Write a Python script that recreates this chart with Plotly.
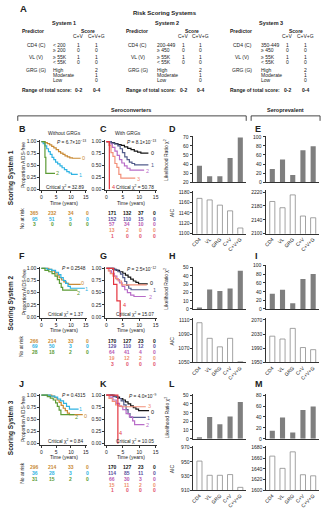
import plotly.graph_objects as go

W, H = 326, 512
FONT = "Liberation Sans, Arial, Helvetica, sans-serif"
INK = "#222222"

# ---------------- colours ----------------
ORANGE = "#c98a35"
CYAN = "#2fb3e3"
GREEN = "#5c9b35"
BLACK = "#151515"
SLATE = "#525c8c"
PURPLE = "#b86cc8"
SALMON = "#f2907a"
RED = "#e4343f"
NO_GRG_COLORS = [ORANGE, CYAN, GREEN]
GRG_COLORS = [BLACK, SLATE, PURPLE, SALMON, RED]
GRG_RISK_COLORS = [BLACK, "#5a4f9d", "#b757b3", "#ee8f6c", "#e2506e"]
LR_FILL = "#7f7f7f"
AIC_EDGE = "#8c8c8c"

PREDICTORS = ["CD4", "VL", "GRG", "C+V", "C+V+G"]
TIME_TICKS = [0, 5, 10, 15]
SURV_TICKS = [0, 0.25, 0.5, 0.75, 1.0]
SURV_TEXT = ["0.00", "0.25", "0.50", "0.75", "1.00"]

# ---------------- Kaplan-Meier step curves (years, proportion AIDS-free) ----------------
B_T = [[0, 1.2, 2.0, 2.8, 3.5, 4.2, 5.0, 5.8, 6.5, 7.3, 8.0, 8.8, 9.6, 10.5, 13.3],
       [0, 0.6, 1.2, 1.8, 2.4, 3.0, 3.6, 4.2, 4.8, 5.5, 6.3, 7.0, 7.8, 8.6, 9.4, 10.2, 12.3],
       [0, 1.2, 1.5, 4.6]]
B_S = [[1.0, 0.98, 0.96, 0.93, 0.90, 0.87, 0.83, 0.79, 0.76, 0.73, 0.70, 0.68, 0.66, 0.65, 0.65],
       [1.0, 0.96, 0.91, 0.85, 0.79, 0.73, 0.67, 0.62, 0.57, 0.53, 0.49, 0.45, 0.41, 0.37, 0.34, 0.31, 0.31],
       [1.0, 0.67, 0.33, 0.33]]

C_T = [[0, 1.5, 2.5, 3.5, 4.5, 5.5, 6.5, 7.5, 8.5, 9.5, 10.5, 12.8],
       [0, 1.5, 2.5, 3.5, 4.2, 4.9, 5.6, 6.3, 7.0, 7.8, 8.6, 12.8],
       [0, 1.0, 1.8, 2.6, 3.3, 4.0, 4.7, 5.5, 6.3, 7.2, 11.5],
       [0, 0.8, 1.4, 2.0, 2.6, 3.2, 3.8, 4.4, 8.8],
       [0, 0.9]]
C_S = [[1.0, 0.98, 0.96, 0.94, 0.92, 0.89, 0.86, 0.83, 0.80, 0.78, 0.76, 0.76],
       [1.0, 0.97, 0.95, 0.91, 0.85, 0.77, 0.68, 0.62, 0.57, 0.54, 0.51, 0.51],
       [1.0, 0.95, 0.88, 0.80, 0.71, 0.62, 0.55, 0.49, 0.44, 0.40, 0.40],
       [1.0, 0.92, 0.77, 0.69, 0.54, 0.46, 0.31, 0.23, 0.23],
       [1.0, 0.0]]

F_T = [[0, 2.5, 3.5, 4.5, 5.3, 6.0, 6.8, 7.6, 8.4, 9.2, 13.3],
       [0, 2.0, 3.5, 4.8, 5.8, 6.6, 7.4, 8.2, 9.0, 9.8, 14.5],
       [0, 1.2, 2.5, 3.6, 4.6, 5.4, 6.1, 6.7, 7.2, 12.2]]
F_S = [[1.0, 0.98, 0.95, 0.91, 0.86, 0.81, 0.76, 0.72, 0.69, 0.67, 0.67],
       [1.0, 0.98, 0.96, 0.92, 0.87, 0.81, 0.75, 0.69, 0.63, 0.59, 0.58],
       [1.0, 0.96, 0.93, 0.89, 0.84, 0.77, 0.69, 0.61, 0.55, 0.55]]

G_T = [[0, 2.0, 3.0, 4.0, 5.0, 5.8, 6.6, 7.4, 8.2, 9.0, 9.8, 12.6],
       [0, 2.5, 3.5, 4.3, 5.0, 5.6, 6.2, 6.8, 7.5, 12.8],
       [0, 0.8, 1.6, 2.4, 3.2, 4.0, 4.8, 5.6, 6.4, 7.4, 8.4, 12.0],
       [0, 0.6, 1.2, 2.0, 2.8, 3.6, 4.6, 12.3],
       [0, 2.2, 3.2, 4.2]]
G_S = [[1.0, 0.98, 0.96, 0.93, 0.90, 0.86, 0.82, 0.78, 0.74, 0.71, 0.68, 0.68],
       [1.0, 0.97, 0.93, 0.88, 0.81, 0.73, 0.65, 0.59, 0.56, 0.56],
       [1.0, 0.95, 0.90, 0.84, 0.77, 0.70, 0.63, 0.56, 0.50, 0.45, 0.42, 0.42],
       [1.0, 0.95, 0.89, 0.84, 0.79, 0.74, 0.66, 0.66],
       [1.0, 0.67, 0.33, 0.0]]

J_T = [[0, 3.5, 4.5, 5.3, 6.0, 6.7, 7.4, 8.1, 8.8, 9.5, 14.0],
       [0, 3.0, 4.5, 5.5, 6.5, 7.5, 8.5, 9.5, 12.6],
       [0, 2.0, 3.0, 4.0, 4.8, 5.4, 6.0, 6.6, 11.2]]
J_S = [[1.0, 0.98, 0.95, 0.90, 0.85, 0.79, 0.73, 0.68, 0.63, 0.60, 0.60],
       [1.0, 0.98, 0.96, 0.92, 0.88, 0.83, 0.77, 0.71, 0.71],
       [1.0, 0.97, 0.94, 0.90, 0.84, 0.77, 0.69, 0.60, 0.60]]

K_T = [[0, 2.0, 3.0, 4.0, 5.0, 5.8, 6.6, 7.4, 8.2, 9.0, 9.8, 13.0],
       [0, 2.5, 3.5, 4.5, 5.3, 6.0, 6.6, 7.2, 12.0],
       [0, 1.0, 2.0, 3.0, 4.0, 5.0, 6.0, 7.0, 8.0, 8.6, 11.6],
       [0, 0.8, 1.8, 2.8, 3.6, 4.6, 12.0],
       [0, 3.5]]
K_S = [[1.0, 0.98, 0.96, 0.93, 0.90, 0.86, 0.82, 0.78, 0.74, 0.71, 0.68, 0.68],
       [1.0, 0.97, 0.93, 0.88, 0.80, 0.70, 0.62, 0.54, 0.54],
       [1.0, 0.96, 0.90, 0.83, 0.77, 0.70, 0.62, 0.55, 0.47, 0.39, 0.39],
       [1.0, 0.93, 0.87, 0.80, 0.78, 0.76, 0.76],
       [1.0, 0.0]]

# ---------------- numbers at risk (t = 0, 5, 10, 15) ----------------
B_RISK = [[365, 232, 34, 0], [95, 51, 5, 0], [3, 0, 0, 0]]
C_RISK = [[171, 132, 37, 0], [152, 110, 15, 0], [57, 34, 10, 0], [13, 2, 0, 0], [1, 0, 0, 0]]
F_RISK = [[266, 214, 33, 0], [69, 50, 3, 0], [28, 18, 2, 0]]
G_RISK = [[170, 127, 23, 0], [129, 110, 12, 0], [64, 41, 4, 0], [19, 12, 2, 0], [3, 0, 0, 0]]
J_RISK = [[296, 214, 33, 0], [36, 28, 3, 0], [31, 15, 2, 0]]
K_RISK = [[170, 127, 23, 0], [114, 85, 11, 0], [66, 30, 3, 0], [15, 11, 2, 0], [1, 0, 0, 0]]

# ---------------- log-rank statistics ----------------
P_TEXT = {"B": "6.7×10<sup>−13</sup>", "C": "8.1×10<sup>−13</sup>", "F": "0.2548",
          "G": "2.5×10<sup>−12</sup>", "J": "0.4315", "K": "4.0×10<sup>−9</sup>"}
CRIT_CHI2 = {"B": "32.89", "C": "50.78", "F": "1.37", "G": "15.07", "J": "0.84", "K": "10.05"}

# ---------------- model comparison ----------------
D_LR = [38, 26.5, 26.5, 46.5, 69]
D_AIC = [1168, 1165, 1155, 1144, 1111]
E_LR = [29, 50, 16, 70, 79]
E_AIC = [2193, 2175, 2212, 2151, 2146]
H_LR = [1.5, 23.5, 21.5, 24.5, 46]
H_AIC = [1106, 1084, 1072, 1084, 1051]
I_LR = [35, 44, 13, 69, 80]
I_AIC = [2024, 2016, 2046, 1992, 1986]
L_LR = [1, 25, 16.5, 25.5, 42]
L_AIC = [951, 931, 931, 932, 914]
M_LR = [14.5, 39, 11.5, 52.5, 59]
M_AIC = [1664, 1641, 1672, 1629, 1627]

# ---------------- scoring system tables ----------------
SYSTEM_NAMES = ["System 1", "System 2", "System 3"]
CD4_LEVELS = [["< 200", "≥ 200"], ["200-449", "≥ 450"], ["350-449", "≥ 450"]]
VL_LEVELS = ["≥ 55K", "< 55K"]
GRG_LEVELS = ["High", "Moderate", "Low"]
CD4_SCORE = ["1", "0"]
VL_SCORE = ["1", "0"]
GRG_SCORE = ["2", "1", "0"]
SCORE_RANGE = ["0-2", "0-4"]


def X(p):
    return p / W


def Y(p):
    return 1 - p / H


def lin(v, a_val, a_px, b_val, b_px):
    return a_px + (v - a_val) * (b_px - a_px) / (b_val - a_val)


layout_axes = {}
annotations = []
shapes = []
traces = []
_n = [0]


def base_axis():
    return dict(showline=True, linecolor="#333333", linewidth=0.7, ticks="outside",
                ticklen=2, tickwidth=0.6, tickcolor="#333333", showgrid=False,
                zeroline=False, fixedrange=True, showticklabels=True,
                tickfont=dict(size=5, family=FONT, color=INK))


def new_axes(xr, xmap, yr, ymap, xopts, yopts):
    """xmap/ymap = (value_a, px_a, value_b, px_b)."""
    _n[0] += 1
    s = "" if _n[0] == 1 else str(_n[0])
    xl, xh = lin(xr[0], *xmap), lin(xr[1], *xmap)
    yl, yh = lin(yr[0], *ymap), lin(yr[1], *ymap)
    xa = base_axis()
    xa.update(domain=[X(xl), X(xh)], range=xr, anchor="y" + s)
    xa.update(xopts)
    ya = base_axis()
    ya.update(domain=[Y(yl), Y(yh)], range=yr, anchor="x" + s)
    ya.update(yopts)
    layout_axes["xaxis" + s] = xa
    layout_axes["yaxis" + s] = ya
    return "x" + s, "y" + s


def text(x, y, s, size=5.0, color=INK, bold=False, xanchor="center",
         yanchor="middle", angle=0):
    if bold:
        s = "<b>" + s + "</b>"
    annotations.append(dict(
        x=X(x), y=Y(y), xref="paper", yref="paper", text=s, showarrow=False, borderpad=0,
        font=dict(size=size, color=color, family=FONT),
        xanchor=xanchor, yanchor=yanchor, textangle=angle))


def line(x0, y0, x1, y1, w=0.9, color="#333333"):
    shapes.append(dict(type="line", xref="paper", yref="paper", x0=X(x0), y0=Y(y0),
                       x1=X(x1), y1=Y(y1), line=dict(color=color, width=w)))


# ---------------- panel A: scoring tables ----------------
text(16, 7, "A", size=9.5, bold=True, xanchor="left")
text(165, 11, "Risk Scoring Systems", size=6, bold=True)
TABLE_X = [  # predictor-left, predictor-centre, level-left, C+V, C+V+G, title
    (18, 34, 50, 77, 95, 62),
    (124, 137, 155, 183, 201, 167),
    (230, 243, 261, 289, 307, 272),
]
for k, (pl, pc, ll, cv, cvg, tc) in enumerate(TABLE_X):
    text(tc, 21, SYSTEM_NAMES[k], size=5.5, bold=True)
    text(pl, 29, "Predictor", size=5, bold=True, xanchor="left")
    text((cv + cvg) / 2, 29, "Score", size=5, bold=True)
    text(cv, 34.5, "C+V", size=5)
    text(cvg, 34.5, "C+V+G", size=5)
    text(pc, 43, "CD4 (C)", size=5)
    text(pc, 56, "VL (V)", size=5)
    text(pc, 69, "GRG (G)", size=5)
    for j, yy in enumerate([43, 48]):
        text(ll, yy, CD4_LEVELS[k][j], size=5, xanchor="left")
        text(cv, yy, CD4_SCORE[j], size=5)
        text(cvg, yy, CD4_SCORE[j], size=5)
    for j, yy in enumerate([56, 61]):
        text(ll, yy, VL_LEVELS[j], size=5, xanchor="left")
        text(cv, yy, VL_SCORE[j], size=5)
        text(cvg, yy, VL_SCORE[j], size=5)
    for j, yy in enumerate([69, 74, 79]):
        text(ll, yy, GRG_LEVELS[j], size=5, xanchor="left")
        text(cvg, yy, GRG_SCORE[j], size=5)
    text(pl, 89, "Range of total score:", size=5, bold=True, xanchor="left")
    text(cv, 89, SCORE_RANGE[0], size=5, bold=True)
    text(cvg, 89, SCORE_RANGE[1], size=5, bold=True)

# group brackets
text(130, 109, "Seroconverters", size=5.5, bold=True)
line(15, 115, 247, 115)
line(15, 115, 15, 120)
line(247, 115, 247, 120)
text(287, 109, "Seroprevalent", size=5.5, bold=True)
line(252, 115, 322, 115)
line(252, 115, 252, 120)
line(322, 115, 322, 120)

# ---------------- Kaplan-Meier panels ----------------
KM_ROWS = [(141, 189), (269, 318), (397, 446)]       # pixel rows of 1.00 and 0.00
KM_COLS = [(39, 84), (105, 155)]                      # pixel columns of t=0 and t=15
LETTER_Y = [128, 257, 386]
RISK_X = [[32, 50, 69, 86], [111, 126, 140, 154]]
RISK_DY = 5.8

# curve-end label anchors (time, proportion); None = no label shown
KM_PANELS = [
    ("B", 0, 0, B_T, B_S, NO_GRG_COLORS, B_RISK, NO_GRG_COLORS,
     [(14.3, 0.65), (13.2, 0.30), (5.6, 0.33)]),
    ("C", 0, 1, C_T, C_S, GRG_COLORS, C_RISK, GRG_RISK_COLORS,
     [(14.0, 0.76), (14.0, 0.50), (12.6, 0.38), (9.8, 0.21), (2.2, 0.05)]),
    ("F", 1, 0, F_T, F_S, NO_GRG_COLORS, F_RISK, NO_GRG_COLORS,
     [(13.9, 0.70), (15.3, 0.58), (12.6, 0.49)]),
    ("G", 1, 1, G_T, G_S, GRG_COLORS, G_RISK, GRG_RISK_COLORS,
     [(13.6, 0.69), (14.8, 0.55), (13.4, 0.40), None, (5.4, 0.25)]),
    ("J", 2, 0, J_T, J_S, NO_GRG_COLORS, J_RISK, NO_GRG_COLORS,
     [(15.0, 0.58), (13.4, 0.71), (12.0, 0.55)]),
    ("K", 2, 1, K_T, K_S, GRG_COLORS, K_RISK, GRG_RISK_COLORS,
     [(14.0, 0.66), (12.8, 0.52), (12.6, 0.38), (13.0, 0.78), (4.2, 0.22)]),
]

for letter, r, c, TT, SS, cols, risk, rcols, lab in KM_PANELS:
    p1, p0 = KM_ROWS[r]
    c0, c15 = KM_COLS[c]
    xmap = (0, c0, 15, c15)
    ymap = (0, p0, 1, p1)
    xa, ya = new_axes([-0.4, 15.4], xmap, [-0.025, 1.03], ymap,
                      dict(tickmode="array", tickvals=TIME_TICKS),
                      dict(tickmode="array", tickvals=SURV_TICKS, ticktext=SURV_TEXT))
    for g, (tt, ss) in enumerate(zip(TT, SS)):
        traces.append(go.Scatter(x=tt, y=ss, mode="lines", line=dict(color=cols[g], width=1.2, shape="hv"),
                                 xaxis=xa, yaxis=ya, hoverinfo="skip"))
        if lab[g] is not None:
            text(lin(lab[g][0], *xmap), lin(lab[g][1], *ymap), str(g), size=5.5, color=cols[g])
    # statistics
    text(c15 + 1, p1 + 0.5, "<i>P</i> = " + P_TEXT[letter], size=4.8, xanchor="right")
    text(c15 - 1, p0 - 2.5, "Critical χ<sup>2</sup> = " + CRIT_CHI2[letter], size=4.8, xanchor="right")
    text((c0 + c15) / 2, p0 + 13.5, "Time (years)", size=5)
    # number at risk
    for i, row in enumerate(risk):
        for j, v in enumerate(row):
            text(RISK_X[c][j], p0 + 24 + i * RISK_DY, str(v), size=5, bold=True, color=rcols[i])
    if c == 0:
        text(21, (p0 + p1) / 2, "Proportion AIDS-free", size=5, angle=-90)
        text(19, p0 + 24 + RISK_DY, "No at risk", size=5, angle=-90)
        text(8, (p0 + p1) / 2 + 12 - 2 * r, "Scoring System %d" % (r + 1), size=6.5, bold=True, angle=-90)
        text(15, LETTER_Y[r], letter, size=9, bold=True, xanchor="left")
    else:
        text(97, LETTER_Y[r], letter, size=9, bold=True, xanchor="left")

text(62, 132, "Without GRGs", size=5)
text(127, 132, "With GRGs", size=5)

# ---------------- likelihood ratio and AIC bar panels ----------------
BAR_COLS = [(199.5, 241), (273.5, 315)]   # pixel centres of first and last bar
BAR_PANELS = [
    # letter, row, col, LR values, LR range, LR map, LR ticks, AIC values, AIC range, AIC map, AIC ticks
    ("D", 0, 0, D_LR, [20, 71], (20, 182, 70, 136), [20, 30, 40, 50, 60, 70],
     D_AIC, [1100, 1183], (1100, 234, 1180, 192), [1100, 1120, 1140, 1160, 1180]),
    ("E", 0, 1, E_LR, [0, 102], (0, 182, 100, 136), [0, 20, 40, 60, 80, 100],
     E_AIC, [2100, 2225], (2100, 234, 2220, 192), [2100, 2140, 2180, 2220]),
    ("H", 1, 0, H_LR, [0, 51], (0, 310, 50, 268), [0, 10, 20, 30, 40, 50],
     H_AIC, [1050, 1113], (1050, 364, 1110, 321), [1050, 1070, 1090, 1110]),
    ("I", 1, 1, I_LR, [0, 102], (0, 310, 100, 266), [0, 20, 40, 60, 80, 100],
     I_AIC, [1950, 2074], (1950, 364, 2070, 321), [1950, 1990, 2030, 2070]),
    ("L", 2, 0, L_LR, [0, 51], (0, 441, 50, 397), [0, 10, 20, 30, 40, 50],
     L_AIC, [910, 972], (910, 493, 970, 450), [910, 930, 950, 970]),
    ("M", 2, 1, M_LR, [0, 82], (0, 441, 80, 397), [0, 20, 40, 60, 80],
     M_AIC, [1600, 1683], (1600, 493, 1680, 450), [1600, 1620, 1640, 1660, 1680]),
]

for letter, r, c, lr, lr_rng, lr_map, lr_ticks, aic, aic_rng, aic_map, aic_ticks in BAR_PANELS:
    b0, b4 = BAR_COLS[c]
    xmap = (0, b0, 4, b4)
    axis_left = lin(-0.6, *xmap)
    xa, ya = new_axes([-0.6, 4.6], xmap, lr_rng, lr_map,
                      dict(type="category", showticklabels=False, ticks=""),
                      dict(tickmode="array", tickvals=lr_ticks, showticklabels=False))
    traces.append(go.Bar(x=PREDICTORS, y=lr, width=0.5, marker=dict(color=LR_FILL, line=dict(width=0)),
                         xaxis=xa, yaxis=ya, hoverinfo="skip"))
    # tick labels for the likelihood-ratio scale, placed beside each tick mark
    for v in lr_ticks:
        text(axis_left - 3, lin(v, *lr_map), str(v), size=5, xanchor="right")
    xa, ya = new_axes([-0.6, 4.6], xmap, aic_rng, aic_map,
                      dict(type="category", ticks="", tickangle=-45),
                      dict(tickmode="array", tickvals=aic_ticks))
    traces.append(go.Bar(x=PREDICTORS, y=aic, width=0.5,
                         marker=dict(color="white", line=dict(color=AIC_EDGE, width=0.8)),
                         xaxis=xa, yaxis=ya, hoverinfo="skip"))
    lx = 168 if c == 0 else 255
    text(lx, LETTER_Y[r], letter, size=9, bold=True, xanchor="left")
    if c == 0:
        text(166, (lr_map[1] + lr_map[3]) / 2, "Likelihood Ratio χ<sup>2</sup>", size=5, angle=-90)
        text(172, (aic_map[1] + aic_map[3]) / 2, "AIC", size=5, angle=-90)

fig = go.Figure(data=traces)
fig.update_layout(
    width=W, height=H, margin=dict(l=0, r=0, t=0, b=0),
    paper_bgcolor="white", plot_bgcolor="white", showlegend=False,
    font=dict(family=FONT, size=5, color=INK),
    annotations=annotations, shapes=shapes, barmode="overlay",
    **layout_axes,
)
fig.write_html("out.html")
